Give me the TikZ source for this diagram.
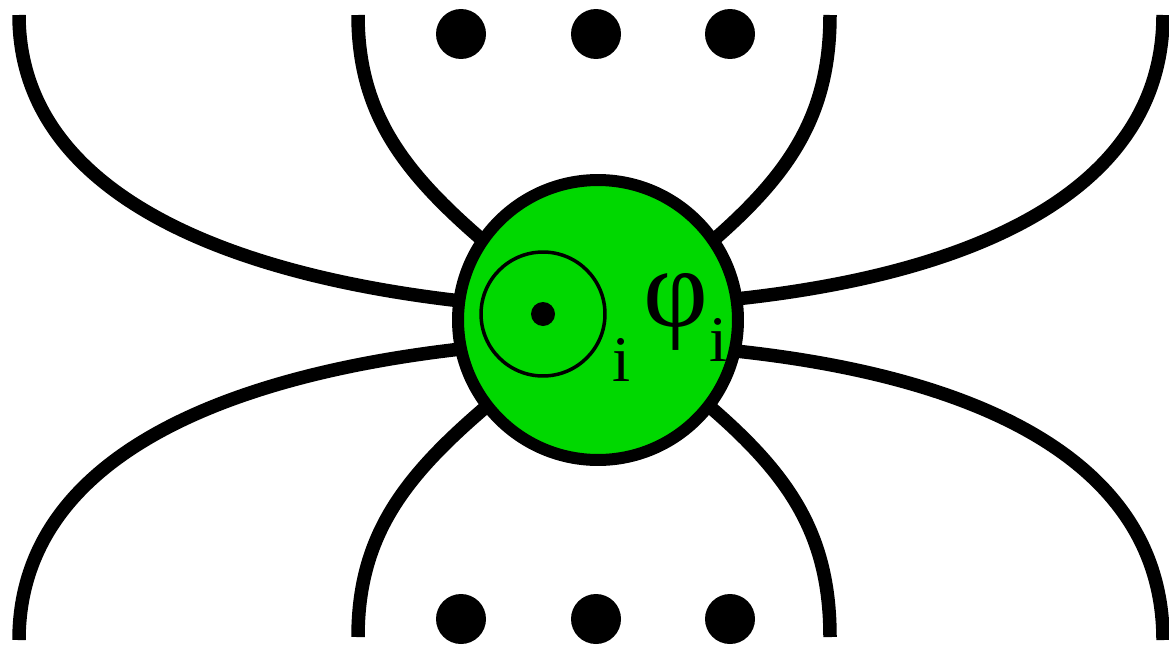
\documentclass[tikz,border=0pt]{standalone}
\usepackage{fontspec}
\setmainfont{Liberation Serif}
\usetikzlibrary{backgrounds}
\definecolor{vgreen}{RGB}{0,216,0}
\begin{document}
\begin{tikzpicture}[x=0.02cm,y=-0.02cm,
  leg/.style={line width=0.27cm},
  blob/.style={circle,fill=vgreen,draw=black,line width=0.24cm,minimum size=5.6cm,inner sep=0pt},
  ring/.style={circle,draw=black,line width=0.07cm,minimum size=2.48cm,inner sep=0pt},
  bigdot/.style={circle,fill=black,minimum size=1cm,inner sep=0pt},
  smalldot/.style={circle,fill=black,minimum size=0.48cm,inner sep=0pt}]
\useasboundingbox (0,0) rectangle (1169,646);
\node[blob] (c) at (598,320) {};
\node[ring] (r) at (543,314) {};
\node[smalldot] (rd) at (543,314) {};
\node[anchor=base west,font=\fontsize{64}{64}\selectfont,inner sep=0pt] (phi) at (643,326)
  {φ\kern0.02cm\raisebox{-0.72cm}{\fontsize{37}{37}\selectfont i}};
\node[anchor=base,font=\fontsize{37}{37}\selectfont,inner sep=0pt] (i1) at (622,381) {i};
\foreach \x [count=\k] in {461,596,730}{
  \node[bigdot] (t\k) at (\x,34) {};
  \node[bigdot] (b\k) at (\x,619) {};
}
\coordinate (tlo) at (19,15);   \coordinate (tloe) at (470,302);
\coordinate (tli) at (358,15);  \coordinate (tlie) at (500,255);
\coordinate (tri) at (830,15);  \coordinate (trie) at (696,255);
\coordinate (tro) at (1163,15); \coordinate (troe) at (726,300);
\coordinate (blo) at (19,640);  \coordinate (bloe) at (470,348);
\coordinate (bli) at (358,637); \coordinate (blie) at (500,395);
\coordinate (bri) at (830,637); \coordinate (brie) at (696,395);
\coordinate (bro) at (1163,640);\coordinate (broe) at (726,350);
\begin{scope}[on background layer]
\draw[leg] (tlo) .. controls (19,190) and (220,275) .. (tloe);
\draw[leg] (tli) .. controls (358,120) and (410,180) .. (tlie);
\draw[leg] (tri) .. controls (830,120) and (786,180) .. (trie);
\draw[leg] (tro) .. controls (1163,190) and (976,275) .. (troe);
\draw[leg] (blo) .. controls (19,460) and (220,375) .. (bloe);
\draw[leg] (bli) .. controls (358,530) and (410,470) .. (blie);
\draw[leg] (bri) .. controls (830,530) and (786,470) .. (brie);
\draw[leg] (bro) .. controls (1163,460) and (976,375) .. (broe);
\end{scope}
\end{tikzpicture}
\end{document}
